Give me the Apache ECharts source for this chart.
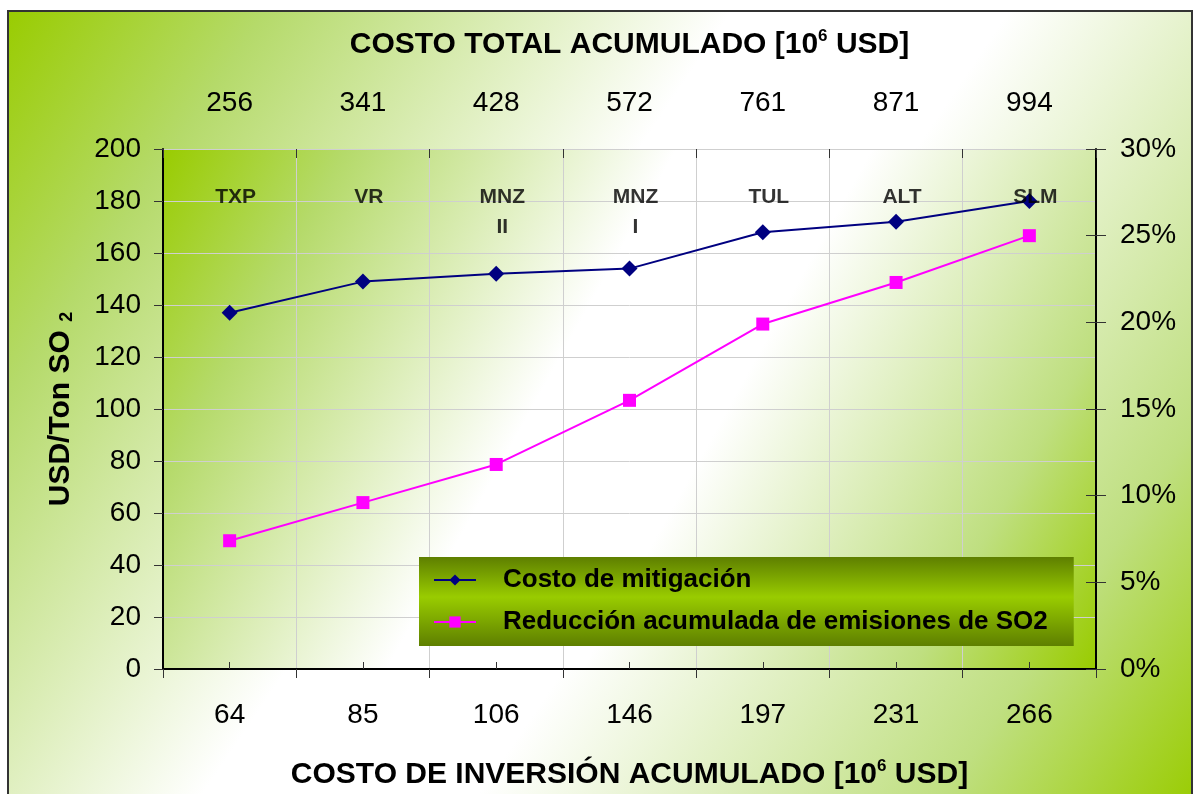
<!DOCTYPE html>
<html>
<head>
<meta charset="utf-8">
<script src="https://cdn.jsdelivr.net/npm/echarts@6/dist/echarts.min.js"></script>
<style>
  html, body { margin: 0; padding: 0; background: #fff; }
  #main { width: 1196px; height: 794px; }
</style>
</head>
<body>
<div id="main"></div>
<script>
// costo de inversión acumulado (eje inferior) y costo total acumulado (eje superior)
const inversion = ['64', '85', '106', '146', '197', '231', '266']
const costoTotal = ['256', '341', '428', '572', '761', '871', '994']
const plantas = ['TXP', 'VR', 'MNZ\nII', 'MNZ\nI', 'TUL', 'ALT', 'SLM']

// USD/Ton SO2
const mitigacion = [137, 149, 152, 154, 168, 172, 180]
// % reducción acumulada
const reduccion = [7.4, 9.6, 11.8, 15.5, 19.9, 22.3, 25.0]
// altura a la que van los nombres de planta
const alturaEtiqueta = plantas.map(() => 183)

const green = '#99cc00'
const FONT = '"Liberation Sans", Arial, sans-serif'

const chart = echarts.init(document.getElementById('main'))

const diag = () => new echarts.graphic.LinearGradient(0, 0, 1, 1, [
  { offset: 0, color: green },
  { offset: 0.15, color: '#b5da6a' },
  { offset: 0.42, color: '#ffffff' },
  { offset: 0.58, color: '#ffffff' },
  { offset: 0.85, color: '#bfdf80' },
  { offset: 1, color: green }
])

const supRich = { sup: { fontSize: 17, fontWeight: 'bold', color: '#000', verticalAlign: 'top', padding: [0, 0, 16, 0] } }

const option = {
  backgroundColor: '#ffffff',
  textStyle: { fontFamily: FONT },
  graphic: {
    elements: [{
      type: 'rect',
      z: -100,
      shape: { x: 8, y: 11, width: 1184, height: 800 },
      style: { fill: diag(), stroke: '#333', lineWidth: 2 }
    }]
  },
  grid: {
    left: 163,
    right: 100,
    top: 149,
    bottom: 125,
    outerBoundsMode: 'none',
    show: true,
    borderWidth: 0,
    backgroundColor: diag()
  },
  legend: {
    data: ['Costo de mitigación', 'Reducción acumulada de emisiones de SO2'],
    orient: 'vertical',
    left: 419,
    top: 557,
    padding: [10, 26, 11, 14],
    itemGap: 16,
    itemWidth: 42,
    itemHeight: 14,
    backgroundColor: new echarts.graphic.LinearGradient(0, 0, 0, 1, [
      { offset: 0, color: '#5e7f00' },
      { offset: 0.45, color: '#99cc00' },
      { offset: 1, color: '#5e7f00' }
    ]),
    textStyle: { fontFamily: FONT, fontSize: 26, fontWeight: 'bold', color: '#000', padding: [0, 0, 0, 22] }
  },
  xAxis: [
    {
      type: 'category',
      position: 'bottom',
      data: inversion,
      axisLine: { lineStyle: { color: '#000', width: 2 } },
      axisTick: { show: true, alignWithLabel: false, length: 9, lineStyle: { color: '#333' } },
      axisLabel: { color: '#000', fontSize: 28, margin: 32 },
      splitLine: { show: true, lineStyle: { color: '#cfcfcf' } },
      name: 'COSTO DE INVERSIÓN ACUMULADO [10{sup|6} USD]',
      nameLocation: 'middle',
      nameGap: 89,
      nameTextStyle: { color: '#000', fontSize: 30, fontWeight: 'bold', rich: supRich }
    },
    {
      type: 'category',
      position: 'bottom',
      data: inversion,
      axisLine: { show: false },
      axisTick: { show: true, alignWithLabel: true, inside: true, length: 7, lineStyle: { color: '#333' } },
      axisLabel: { show: false },
      splitLine: { show: false }
    },
    {
      type: 'category',
      position: 'top',
      data: costoTotal,
      axisLine: { lineStyle: { color: '#000', width: 2 } },
      axisTick: { show: true, alignWithLabel: true, length: 6, lineStyle: { color: '#333' } },
      axisLabel: { color: '#000', fontSize: 28, margin: 32 },
      splitLine: { show: false },
      name: 'COSTO TOTAL ACUMULADO [10{sup|6} USD]',
      nameLocation: 'middle',
      nameGap: 88,
      nameTextStyle: { color: '#000', fontSize: 30, fontWeight: 'bold', rich: supRich }
    },
    {
      type: 'category',
      position: 'top',
      data: costoTotal,
      axisLine: { show: false },
      axisTick: { show: true, alignWithLabel: false, inside: true, length: 9, lineStyle: { color: '#333' } },
      axisLabel: { show: false },
      splitLine: { show: false }
    }
  ],
  yAxis: [
    {
      type: 'value',
      position: 'left',
      min: 0,
      max: 200,
      interval: 20,
      axisLine: { show: true, lineStyle: { color: '#000', width: 2 } },
      axisTick: { show: true, length: 9, lineStyle: { color: '#333' } },
      axisLabel: { color: '#000', fontSize: 28, margin: 22 },
      splitLine: { show: true, lineStyle: { color: '#cfcfcf' } },
      name: 'USD/Ton SO {sub|2}',
      nameLocation: 'middle',
      nameRotate: 90,
      nameGap: 87,
      nameTextStyle: {
        color: '#000', fontSize: 30, fontWeight: 'bold',
        rich: { sub: { fontSize: 18, fontWeight: 'bold', color: '#000', verticalAlign: 'bottom', padding: [12, 0, 0, 0] } }
      }
    },
    {
      type: 'value',
      position: 'right',
      min: 0,
      max: 30,
      interval: 5,
      axisLine: { show: true, lineStyle: { color: '#000', width: 2 } },
      axisTick: { show: true, length: 10, lineStyle: { color: '#333' } },
      axisLabel: { color: '#000', fontSize: 28, margin: 24, formatter: '{value}%' },
      splitLine: { show: false }
    },
    {
      type: 'value',
      position: 'right',
      min: 0,
      max: 30,
      interval: 5,
      axisLine: { show: false },
      axisTick: { show: true, inside: true, length: 10, lineStyle: { color: '#333' } },
      axisLabel: { show: false },
      splitLine: { show: false }
    }
  ],
  series: [
    {
      name: 'Costo de mitigación',
      type: 'line',
      xAxisIndex: 0,
      yAxisIndex: 0,
      data: mitigacion,
      symbol: 'diamond',
      symbolSize: 16,
      color: '#000080',
      lineStyle: { color: '#000080', width: 2 },
      itemStyle: { color: '#000080' },
      z: 4
    },
    {
      name: 'Reducción acumulada de emisiones de SO2',
      type: 'line',
      xAxisIndex: 0,
      yAxisIndex: 1,
      data: reduccion,
      symbol: 'rect',
      symbolSize: 13,
      color: '#ff00ff',
      lineStyle: { color: '#ff00ff', width: 2 },
      itemStyle: { color: '#ff00ff' },
      z: 3
    },
    {
      name: 'plantas',
      type: 'scatter',
      xAxisIndex: 0,
      yAxisIndex: 0,
      data: alturaEtiqueta,
      symbolSize: 0,
      silent: true,
      z: 5,
      label: {
        show: true,
        position: 'inside',
        offset: [6, -11],
        verticalAlign: 'top',
        formatter: (p) => plantas[p.dataIndex],
        color: '#000',
        fontFamily: FONT,
        fontSize: 21,
        fontWeight: 'bold',
        lineHeight: 30
      }
    }
  ]
}

chart.setOption(option)
</script>
</body>
</html>
